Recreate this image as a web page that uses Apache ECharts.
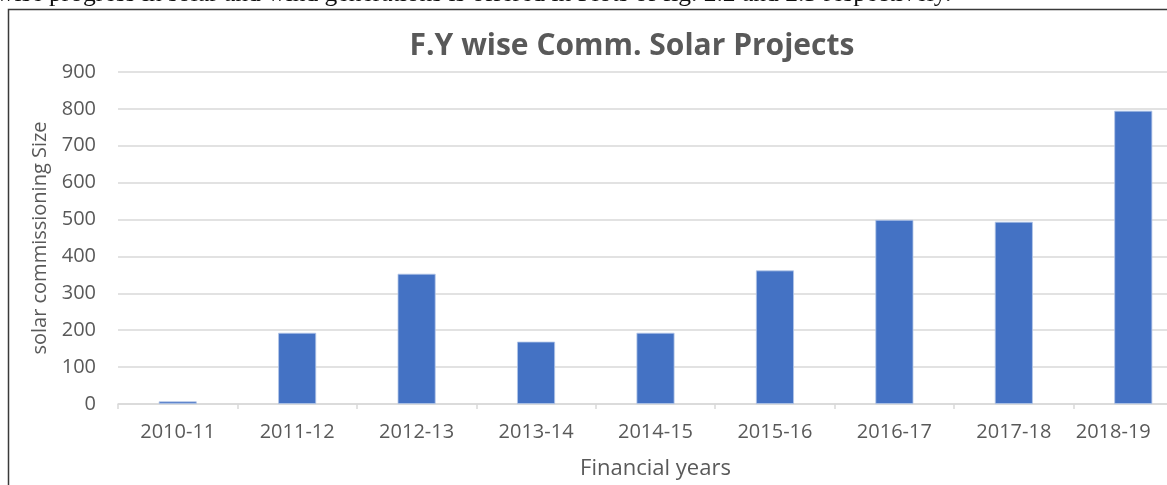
<!DOCTYPE html>
<html>
<head>
<meta charset="utf-8">
<script src="https://cdn.jsdelivr.net/npm/echarts@6/dist/echarts.min.js"></script>
<style>
html,body{margin:0;padding:0;background:#fff;overflow:hidden;width:1167px;height:485px;}
#chart{width:1200px;height:485px;}
</style>
</head>
<body>
<div id="chart"></div>
<script>
const categories = ['2010-11','2011-12','2012-13','2013-14','2014-15','2015-16','2016-17','2017-18','2018-19'];
const solarSize = [7, 193, 353, 169, 193, 362, 499, 494, 795];
const titleText = 'F.Y wise Comm. Solar Projects';
const xName = 'Financial years';
const yName = 'solar commissioning Size';
const captionText = 'wise progress in solar and wind generations is offered in Plots of fig. 2.2 and 2.3 respectively.';

const chart = echarts.init(document.getElementById('chart'));
const lastIdx = categories.length - 1;
const FONT = 'Open Sans';
chart.setOption({
  animation: false,
  backgroundColor: '#fff',
  title: {
    text: titleText,
    left: 627, top: 26,
    textAlign: 'center',
    textStyle: {fontFamily: FONT, fontWeight: 'bold', fontSize: 30, color: '#595959'}
  },
  graphic: [
    {type: 'rect', shape: {x: 8.5, y: 9.5, width: 1300, height: 600}, style: {fill: 'none', stroke: '#3a3a3a', lineWidth: 1.5}, z: 100},
    {type: 'text', x: -4, y: 7.5, style: {text: captionText, font: '25.5px "Liberation Serif"', fill: '#111', textVerticalAlign: 'bottom'}, z: 100}
  ],
  grid: {left: 118, right: 7, top: 72, bottom: 79, containLabel: false},
  xAxis: {
    type: 'category',
    data: categories,
    name: xName,
    nameLocation: 'middle',
    nameGap: 54,
    nameTextStyle: {fontFamily: FONT, fontSize: 22, color: '#595959'},
    axisLine: {lineStyle: {color: '#d9d9d9', width: 1.5}},
    axisTick: {show: true, length: 5, lineStyle: {color: '#d9d9d9', width: 1.5}},
    axisLabel: {
      interval: 0,
      fontFamily: FONT, fontSize: 20, color: '#595959', margin: 18,
      formatter: function (v, i) { return i === lastIdx ? '{last|' + v + '}' : v; },
      rich: {last: {fontFamily: FONT, fontSize: 20, color: '#595959', padding: [0, 40, 0, 0]}}
    }
  },
  yAxis: {
    type: 'value',
    min: 0, max: 900, interval: 100,
    name: yName,
    nameLocation: 'middle',
    nameGap: 68,
    nameTextStyle: {fontFamily: FONT, fontSize: 20, color: '#595959'},
    axisLine: {show: false},
    axisTick: {show: false},
    splitLine: {lineStyle: {color: '#d9d9d9', width: 1.5}},
    axisLabel: {fontFamily: FONT, fontSize: 20, color: '#595959', margin: 22}
  },
  series: [{
    type: 'bar',
    data: solarSize,
    barWidth: 38,
    itemStyle: {color: '#4472c4', borderColor: '#b4c7e7', borderWidth: 0.8}
  }]
});
</script>
</body>
</html>
